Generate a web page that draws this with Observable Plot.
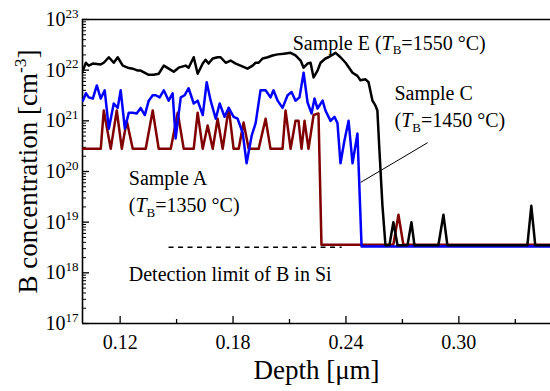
<!DOCTYPE html>
<html><head><meta charset="utf-8">
<script src="https://cdn.jsdelivr.net/npm/d3@7"></script>
<script src="https://cdn.jsdelivr.net/npm/@observablehq/plot@0.6"></script>
<style>
html,body{margin:0;padding:0;background:#fff;}
</style>
</head><body><div id="chart"></div>
<script>
// ---- Sample E (TB = 1550 °C), black ----
const depthE = [0.1002,0.1018,0.1033,0.1055,0.1097,0.1113,0.1140,0.1166,0.1187,0.1214,0.1240,0.1267,0.1294,0.1309,0.1352,0.1378,0.1405,0.1432,0.1458,0.1485,0.1511,0.1548,0.1564,0.1591,0.1612,0.1639,0.1654,0.1670,0.1692,0.1718,0.1734,0.1761,0.1787,0.1814,0.1840,0.1877,0.1904,0.1920,0.1936,0.1957,0.1984,0.2010,0.2037,0.2069,0.2106,0.2132,0.2159,0.2175,0.2196,0.2212,0.2228,0.2249,0.2265,0.2291,0.2307,0.2345,0.2371,0.2398,0.2435,0.2461,0.2477,0.2504,0.2520,0.2541,0.2557,0.2567,0.2578,0.2594,0.2610,0.2631,0.2652,0.2674,0.2727,0.2748,0.2764,0.2891,0.2918,0.2939,0.3364,0.3385,0.3406,0.3500];
const concE = [9.8e21,1.4e22,1.23e22,1.35e22,1.3e22,1.4e22,1.8e22,1.4e22,1.8e22,1.23e22,1.12e22,1.07e22,9.8e21,9.8e21,8.1e21,8.1e21,8.5e21,1.23e22,1.07e22,9.3e21,1.12e22,1.23e22,1.12e22,1.8e22,8.5e21,1.35e22,1.6e22,1.35e22,1.7e22,1.8e22,1.8e22,1.4e22,1.55e22,1.35e22,1.23e22,1.07e22,1.23e22,1.4e22,1.4e22,1.7e22,1.8e22,1.95e22,2.05e22,2.1e22,2.2e22,1.95e22,1.55e22,1.12e22,1.35e22,1.4e22,7.2e21,9.8e21,1.4e22,1.7e22,1.8e22,2.2e22,1.8e22,1.4e22,8.9e21,7.7e21,6.3e21,6.6e21,5.8e21,2.5e21,2.0e21,1.6e21,2.6e20,2.1e19,3.5e18,3.5e18,1.0e19,3.5e18,3.5e18,1.0e19,3.5e18,3.5e18,1.4e19,3.5e18,3.5e18,2.1e19,3.5e18,3.5e18];

// ---- Sample C (TB = 1450 °C), blue ----
const depthC = [0.1002,0.1018,0.1033,0.1055,0.1076,0.1097,0.1118,0.1140,0.1166,0.1187,0.1203,0.1225,0.1246,0.1267,0.1288,0.1309,0.1331,0.1352,0.1373,0.1389,0.1410,0.1432,0.1458,0.1479,0.1495,0.1522,0.1543,0.1564,0.1591,0.1612,0.1639,0.1660,0.1681,0.1708,0.1729,0.1755,0.1777,0.1803,0.1824,0.1851,0.1872,0.1899,0.1920,0.1946,0.1973,0.1999,0.2015,0.2037,0.2063,0.2090,0.2111,0.2132,0.2153,0.2175,0.2196,0.2217,0.2233,0.2249,0.2276,0.2291,0.2318,0.2339,0.2355,0.2371,0.2392,0.2414,0.2435,0.2461,0.2483,0.3500];
const concC = [2.5e21,3.5e21,2.9e21,2.75e21,5e21,2.75e21,4e21,7e20,2.2e21,1.8e21,4e21,7e20,1.45e21,1.45e21,1.4e21,1.8e21,1.3e21,2.5e21,3.2e21,3.2e21,2.9e21,4e21,2.5e21,3.5e21,4.5e20,2.9e21,3.2e21,4.4e21,2.2e21,2.5e21,1.3e21,5.8e21,2.5e21,1.1e21,2.2e21,1.2e21,1.8e21,1.2e21,1.1e21,5.9e20,1.45e20,5.1e20,9e20,4e21,4e21,2.9e21,4e21,2.5e21,1.8e21,3.2e21,3.7e21,2.5e21,2.9e21,8.9e21,2.3e21,1.4e21,2.75e21,1.75e21,2.5e21,1.6e21,1.0e21,1.2e21,9e20,1.45e20,4.1e20,1.0e21,1.45e20,5.6e20,3.3e18,3.3e18];

// ---- Sample A (TB = 1350 °C), dark red ----
const depthA = [0.1002,0.1097,0.1113,0.1150,0.1182,0.1209,0.1235,0.1267,0.1336,0.1373,0.1405,0.1469,0.1506,0.1538,0.1591,0.1612,0.1639,0.1665,0.1692,0.1718,0.1745,0.1777,0.1803,0.1830,0.1856,0.1883,0.1936,0.1973,0.1999,0.2063,0.2079,0.2106,0.2132,0.2148,0.2164,0.2180,0.2201,0.2228,0.2254,0.2270,0.2652,0.2679,0.2705,0.3500];
const concA = [2.8e20,2.8e20,1.6e21,2.8e20,1.6e21,2.8e20,1.0e21,2.8e20,2.8e20,1.6e21,2.8e20,2.8e20,1.45e21,2.8e20,2.8e20,1.45e21,2.8e20,8.1e20,2.8e20,1.1e21,2.8e20,1.8e21,2.8e20,2.8e20,9.3e20,2.8e20,2.8e20,1.1e21,2.8e20,2.8e20,1.6e21,2.8e20,1.0e21,1.0e21,2.8e20,1.0e21,2.8e20,1.3e21,1.4e21,3.6e18,3.6e18,1.4e19,3.6e18,3.6e18];

// ---- Detection limit ----
const detectionLimit = 3.2e18;
const detectionDepth = [0.146, 0.238];

// ---- Axes ----
const xDomain = [0.1, 0.3487];
const yDomain = [1e17, 1e23];
const xMajor = [0.12, 0.18, 0.24, 0.30];
const xMinor = [0.15, 0.21, 0.27, 0.33];
const yMajor = [1e17, 1e18, 1e19, 1e20, 1e21, 1e22, 1e23];
const xLabel = "Depth [μm]";
const yLabel = "B concentration [cm^{-3}]";

// ---- Annotations ----
const annotText = ["Sample E (*T*_{B}=1550 °C)", "Sample C", "(*T*_{B}=1450 °C)", "Sample A", "(*T*_{B}=1350 °C)", "Detection limit of B in Si"];
const annotX = [0.2117, 0.2658, 0.2658, 0.1246, 0.1246, 0.1246];
const annotY = [3.4e22, 3.5e21, 9.9e20, 7.4e19, 2.1e19, 9.1e17];
const pointer = {x1: 0.2834, y1: 3.7e20, x2: 0.2478, y2: 6.1e19};

const zip = (xs, ys) => xs.map((x, i) => ({depth: x, conc: ys[i]}));
const dataE = zip(depthE, concE), dataC = zip(depthC, concC), dataA = zip(depthA, concA);
const annots = annotText.map((t, i) => ({t, x: annotX[i], y: annotY[i]}));
const yMinor = d3.scaleLog().domain(yDomain).ticks().filter(v => !yMajor.some(m => Math.abs(m - v) / m < 1e-9));

const W = 550, H = 391, mL = 82, mR = 0, mT = 19, mB = 68;
const iw = W - mL - mR, ih = H - mT - mB;

const plot = Plot.plot({
  width: W, height: H,
  marginLeft: mL, marginRight: mR, marginTop: mT, marginBottom: mB,
  style: {fontFamily: "'Liberation Serif', 'Times New Roman', serif", fontSize: "20px", color: "black", background: "white", overflow: "visible"},
  x: {domain: xDomain},
  y: {type: "log", domain: yDomain},
  marks: [
    Plot.axisX({ticks: xMajor, tickFormat: d3.format(".2f"), tickSize: 0, tickPadding: 11, label: null, fontSize: 20}),
    Plot.axisY({ticks: yMajor, tickFormat: d => "10^{" + Math.round(Math.log10(d)) + "}", tickSize: 0, tickPadding: 4, label: null, fontSize: 20}),
    Plot.ruleX([xDomain[0]], {stroke: "black", strokeWidth: 1.6}),
    Plot.ruleY([yDomain[0]], {stroke: "black", strokeWidth: 1.6}),
    Plot.ruleY([yDomain[1]], {stroke: "black", strokeWidth: 1.6}),
    Plot.tickX(xMajor, {x: d => d, insetTop: ih - 7, stroke: "black", strokeWidth: 1.3}),
    Plot.tickX(xMinor, {x: d => d, insetTop: ih - 4, stroke: "black", strokeWidth: 1.3}),
    Plot.tickY(yMajor, {y: d => d, insetRight: iw - 7, stroke: "black", strokeWidth: 1.3}),
    Plot.tickY(yMinor, {y: d => d, insetRight: iw - 4, stroke: "black", strokeWidth: 1}),
    Plot.ruleY([detectionLimit], {x1: detectionDepth[0], x2: detectionDepth[1], stroke: "black", strokeWidth: 1.3, strokeDasharray: "5,4.5"}),
    Plot.line(dataA, {x: "depth", y: "conc", stroke: "#800000", strokeWidth: 2.5, clip: true}),
    Plot.line(dataC, {x: "depth", y: "conc", stroke: "#0000ff", strokeWidth: 2.5, clip: true}),
    Plot.line(dataE, {x: "depth", y: "conc", stroke: "black", strokeWidth: 2.5, clip: true}),
    Plot.link([pointer], {x1: "x1", y1: "y1", x2: "x2", y2: "y2", stroke: "black", strokeWidth: 1}),
    Plot.text(annots, {x: "x", y: "y", text: "t", textAnchor: "start", fontSize: 20, fill: "black"}),
    Plot.text([xLabel], {frameAnchor: "bottom", textAnchor: "middle", lineAnchor: "middle", dy: 47, fontSize: 27, fill: "black"}),
    Plot.text([yLabel], {frameAnchor: "left", textAnchor: "middle", lineAnchor: "middle", dx: -54, rotate: -90, fontSize: 27, fill: "black"})
  ]
});
document.getElementById("chart").appendChild(plot);

// rich text: ^{sup}, _{sub}, *italic*
const NS = "http://www.w3.org/2000/svg";
plot.querySelectorAll("text").forEach(t => {
  const s = t.textContent;
  if (!/[\^_]\{|\*/.test(s)) return;
  const fs = parseFloat(getComputedStyle(t).fontSize) || 20;
  const parts = s.split(/(\^\{[^}]*\}|_\{[^}]*\}|\*[^*]+\*)/).filter(p => p !== "");
  t.textContent = "";
  let shift = 0;
  for (const p of parts) {
    const ts = document.createElementNS(NS, "tspan");
    let target = 0, txt = p;
    if (p.startsWith("^{")) { target = -0.42 * fs; txt = p.slice(2, -1); ts.setAttribute("font-size", 0.65 * fs); }
    else if (p.startsWith("_{")) { target = 0.22 * fs; txt = p.slice(2, -1); ts.setAttribute("font-size", 0.65 * fs); }
    else if (p.startsWith("*")) { txt = p.slice(1, -1); ts.setAttribute("font-style", "italic"); }
    if (target !== shift) { ts.setAttribute("dy", target - shift); shift = target; }
    ts.textContent = txt;
    t.appendChild(ts);
  }
});
</script></body></html>
